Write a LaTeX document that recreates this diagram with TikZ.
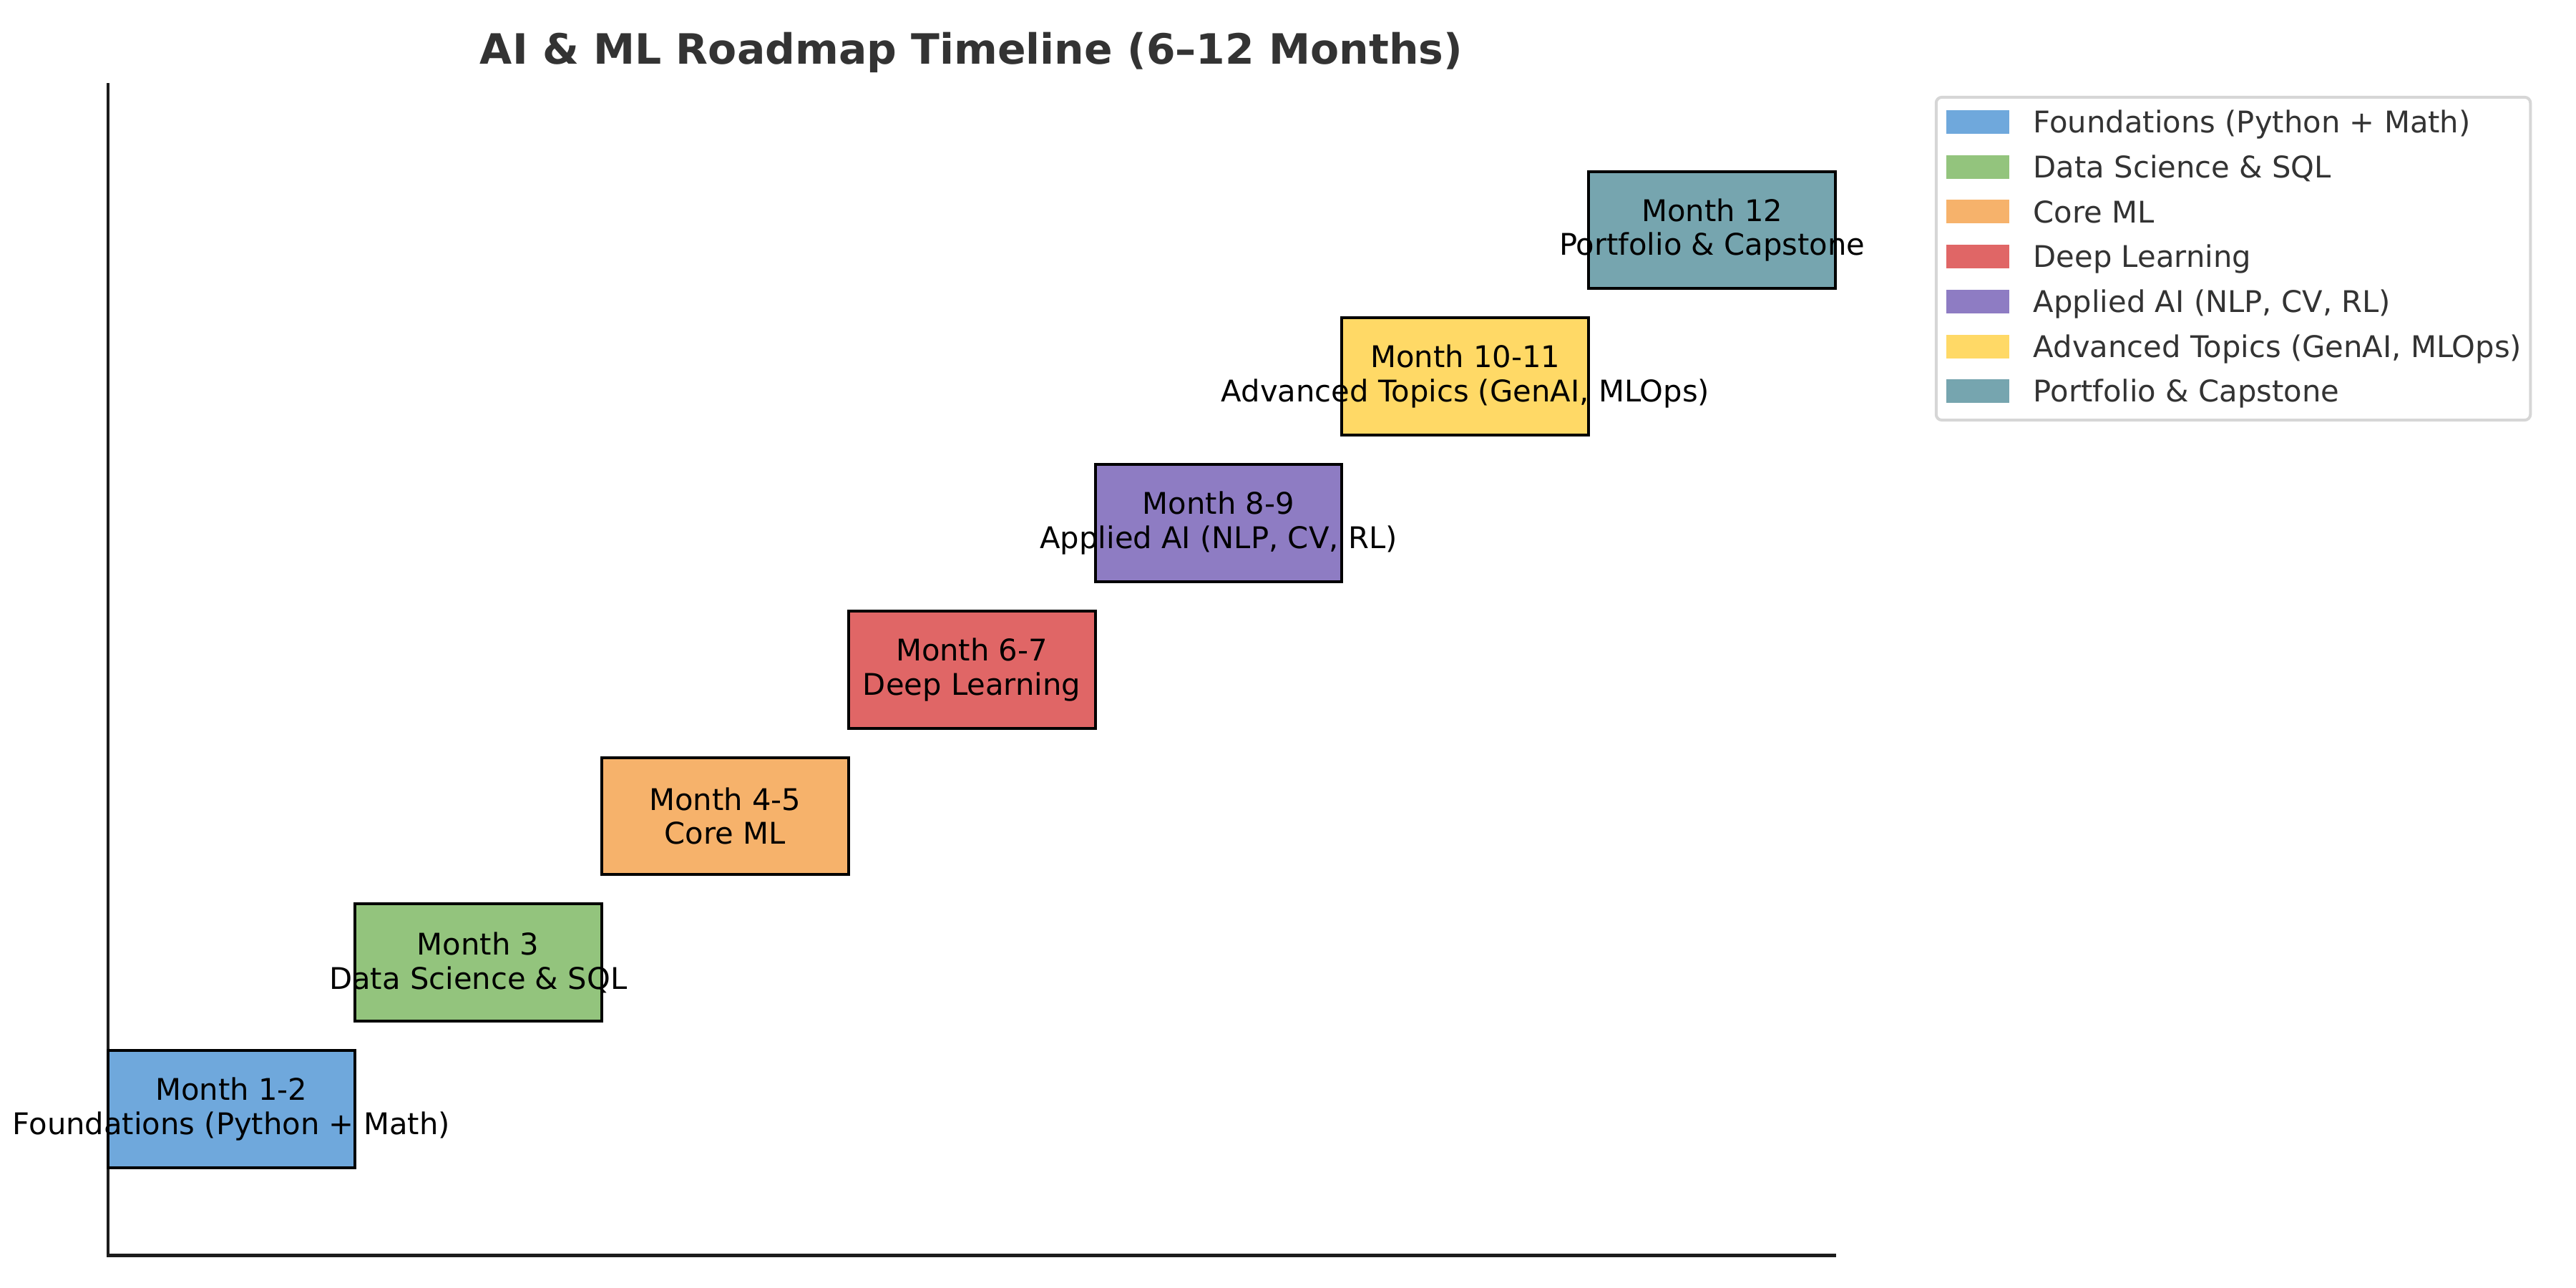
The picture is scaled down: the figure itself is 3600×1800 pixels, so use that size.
\documentclass[tikz,border=0pt]{standalone}
\usepackage{fontspec}
\setmainfont{DejaVu Sans}
\usetikzlibrary{positioning}

\definecolor{foundblue}{HTML}{6FA8DC}
\definecolor{datagreen}{HTML}{93C47D}
\definecolor{coreorange}{HTML}{F6B26B}
\definecolor{deepred}{HTML}{E06666}
\definecolor{appliedpurple}{HTML}{8E7CC3}
\definecolor{advyellow}{HTML}{FFD966}
\definecolor{portteal}{HTML}{76A5AF}
\definecolor{axisgray}{HTML}{1C1C1C}
\definecolor{textgray}{HTML}{333333}
\definecolor{framegray}{HTML}{D6D6D6}

\begin{document}
\begin{tikzpicture}[
    x=0.01cm, y=0.01cm,
    phase/.style={
        rectangle,
        draw=black,
        line width=1.14pt,
        minimum width=3.447cm,
        minimum height=1.637cm,
        inner sep=0pt,
        outer sep=0pt
    },
    phasetext/.style={
        align=center,
        inner sep=0pt,
        font=\fontsize{11.86pt}{13.6pt}\selectfont
    },
    legendframe/.style={
        rectangle,
        rounded corners=0.08cm,
        draw=framegray,
        fill=white,
        line width=1.14pt,
        minimum width=8.3cm,
        minimum height=4.51cm,
        inner sep=0pt,
        outer sep=0pt
    },
    patch/.style={
        rectangle,
        minimum width=0.88cm,
        minimum height=0.33cm,
        inner sep=0pt,
        outer sep=0pt
    },
    legtext/.style={
        inner sep=0pt,
        outer sep=0pt,
        text height=8.65pt,
        text depth=0pt,
        text=textgray,
        font=\fontsize{11.86pt}{13.6pt}\selectfont
    },
    axis/.style={line width=1.14pt, draw=axisgray, line cap=rect}
]
\useasboundingbox (0,0) rectangle (3600,1800);

% title
\node[anchor=base, text=textgray, inner sep=0pt,
      font=\fontsize{16.6pt}{20pt}\selectfont\bfseries] (title) at (1357.5,1710)
      {AI \& ML Roadmap Timeline (6--12 Months)};

% axes
\coordinate (origin) at (151,45.5);
\coordinate (ytop) at (151,1682);
\coordinate (xend) at (2564,45.5);
\draw[axis] (ytop) -- (origin) -- (xend);

% phases
\node[phase, fill=foundblue] (m1) at (323.35,250.1) {};
\node[phase, fill=datagreen, above right=0.409cm and 0cm of m1] (m2) {};
\node[phase, fill=coreorange, above right=0.409cm and 0cm of m2] (m3) {};
\node[phase, fill=deepred, above right=0.409cm and 0cm of m3] (m4) {};
\node[phase, fill=appliedpurple, above right=0.409cm and 0cm of m4] (m5) {};
\node[phase, fill=advyellow, above right=0.409cm and 0cm of m5] (m6) {};
\node[phase, fill=portteal, above right=0.409cm and 0cm of m6] (m7) {};

\node[phasetext] (m1t) at (m1) {Month 1-2\\Foundations (Python + Math)};
\node[phasetext] (m2t) at (m2) {Month 3\\Data Science \& SQL};
\node[phasetext] (m3t) at (m3) {Month 4-5\\Core ML};
\node[phasetext] (m4t) at (m4) {Month 6-7\\Deep Learning};
\node[phasetext] (m5t) at (m5) {Month 8-9\\Applied AI (NLP, CV, RL)};
\node[phasetext] (m6t) at (m6) {Month 10-11\\Advanced Topics (GenAI, MLOps)};
\node[phasetext] (m7t) at (m7) {Month 12\\Portfolio \& Capstone};

% legend
\node[legendframe] (legend) at (3121,1438.5) {};
\node[patch, fill=foundblue, below right=0.18cm and 0.14cm of legend.north west] (p1) {};
\node[patch, fill=datagreen, below=0.297cm of p1] (p2) {};
\node[patch, fill=coreorange, below=0.297cm of p2] (p3) {};
\node[patch, fill=deepred, below=0.297cm of p3] (p4) {};
\node[patch, fill=appliedpurple, below=0.297cm of p4] (p5) {};
\node[patch, fill=advyellow, below=0.297cm of p5] (p6) {};
\node[patch, fill=portteal, below=0.297cm of p6] (p7) {};

\node[legtext, right=0.34cm of p1] (l1) {Foundations (Python + Math)};
\node[legtext, right=0.34cm of p2] (l2) {Data Science \& SQL};
\node[legtext, right=0.34cm of p3] (l3) {Core ML};
\node[legtext, right=0.34cm of p4] (l4) {Deep Learning};
\node[legtext, right=0.34cm of p5] (l5) {Applied AI (NLP, CV, RL)};
\node[legtext, right=0.34cm of p6] (l6) {Advanced Topics (GenAI, MLOps)};
\node[legtext, right=0.34cm of p7] (l7) {Portfolio \& Capstone};

\end{tikzpicture}
\end{document}
